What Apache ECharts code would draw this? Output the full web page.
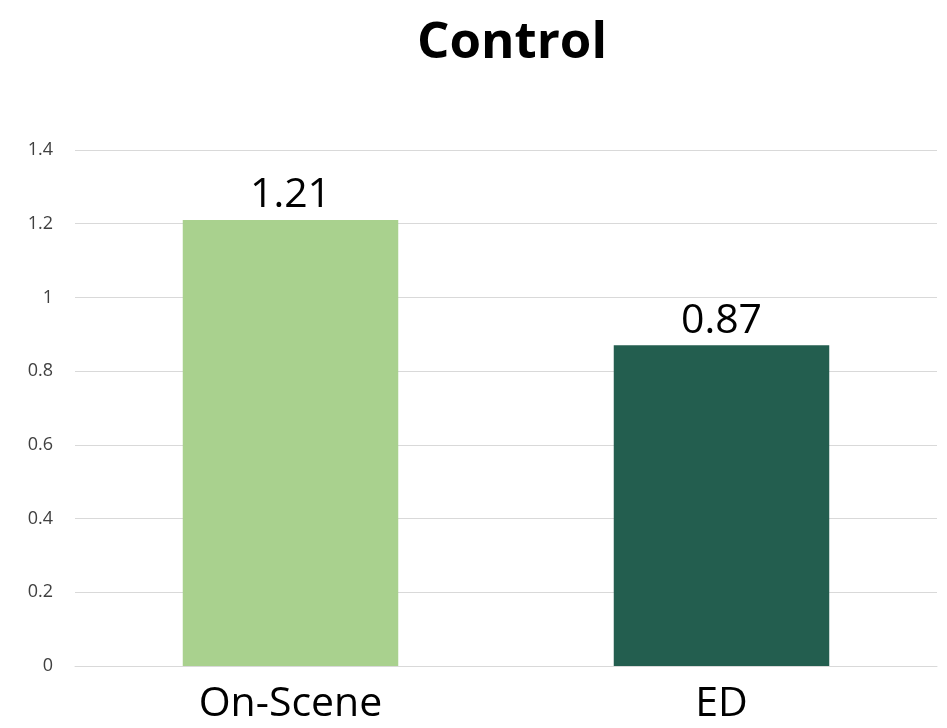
<!DOCTYPE html>
<html>
<head>
<meta charset="utf-8">
<script src="https://cdn.jsdelivr.net/npm/echarts@6/dist/echarts.min.js"></script>
<style>html,body{margin:0;padding:0;background:#fff}#c{width:947px;height:728px}</style>
</head>
<body>
<div id="c"></div>
<script>
const categories = ['On-Scene', 'ED'];
const values = [1.21, 0.87];
const barColors = ['#A9D18E', '#235E4F'];
const yTicks = [0, 0.2, 0.4, 0.6, 0.8, 1, 1.2, 1.4];

const chart = echarts.init(document.getElementById('c'));
chart.setOption({
  backgroundColor: '#fff',
  animation: false,
  title: {
    text: 'Control', left: 507, top: 13, textAlign: 'center',
    textStyle: { fontFamily: 'Open Sans', fontWeight: 'bold', fontSize: 51, color: '#000' }
  },
  grid: { left: 75, right: 10, top: 150, bottom: 62, containLabel: false },
  xAxis: {
    type: 'category', data: categories,
    axisLine: { show: true, lineStyle: { color: '#D9D9D9', width: 1 } },
    axisTick: { show: false },
    axisLabel: { fontFamily: 'Open Sans', fontSize: 41, color: '#000', margin: 18 }
  },
  yAxis: {
    type: 'value', min: 0, max: 1.4, interval: 0.2,
    axisLine: { show: false }, axisTick: { show: false },
    splitLine: { lineStyle: { color: '#D9D9D9', width: 1 } },
    axisLabel: {
      fontFamily: 'Open Sans', fontSize: 18, color: '#404040', margin: 22,
      formatter: v => String(Math.round(v * 10) / 10)
    }
  },
  series: [{
    type: 'bar', barWidth: '50%',
    data: values.map((v, i) => ({ value: v, itemStyle: { color: barColors[i] } })),
    label: { show: true, position: 'top', distance: 4, fontFamily: 'Open Sans', fontSize: 41, color: '#000',
      formatter: p => p.value.toFixed(2) }
  }]
});
</script>
</body>
</html>
